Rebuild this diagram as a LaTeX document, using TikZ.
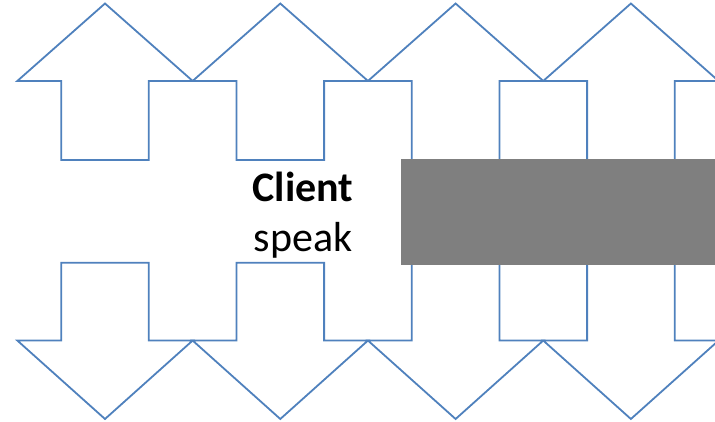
\documentclass[tikz,border=0pt]{standalone}
\usepackage{fontspec}
\setmainfont{Carlito}
\definecolor{arrowblue}{HTML}{4F81BD}
\definecolor{boxgray}{HTML}{7F7F7F}
\begin{document}
\begin{tikzpicture}[x=1pt,y=-1pt,
  arrowshape/.style={draw=arrowblue,line width=1.8pt,line join=miter,fill=white},
  label/.style={font=\fontsize{42}{50}\selectfont,anchor=base,inner sep=0pt}]
\useasboundingbox (0,0) rectangle (715,422);
\clip (0,0) rectangle (715,422);
\foreach \a in {105,280.3,455.6,630.9}{
  \draw[arrowshape] (\a,3.5) -- (\a+87.7,81) -- (\a+43.8,81) -- (\a+43.8,160)
    -- (\a-43.8,160) -- (\a-43.8,81) -- (\a-87.7,81) -- cycle;
  \draw[arrowshape] (\a,419) -- (\a+87.7,340.5) -- (\a+43.8,340.5) -- (\a+43.8,262.7)
    -- (\a-43.8,262.7) -- (\a-43.8,340.5) -- (\a-87.7,340.5) -- cycle;
}
\fill[boxgray] (400.7,159) rectangle (715,265);
\node[label] (client) at (303,201.7) {\bfseries Client};
\node[label] (speak) at (303,251.7) {speak};
\end{tikzpicture}
\end{document}
